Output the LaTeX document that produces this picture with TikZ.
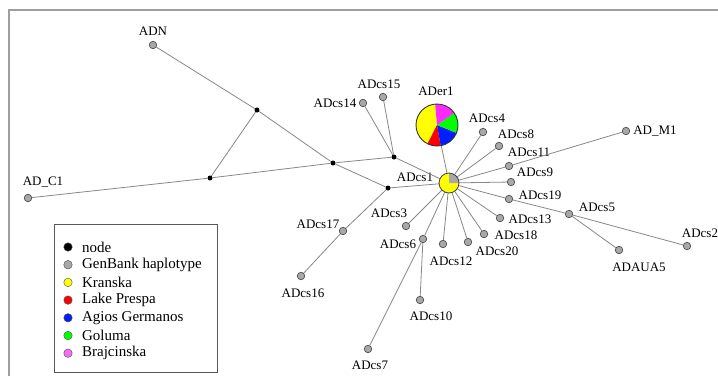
\documentclass[tikz,border=0pt]{standalone}
\usepackage{fontspec}
\setmainfont{Liberation Serif}
\usetikzlibrary{positioning}
\definecolor{hapgray}{RGB}{168,168,168}
\definecolor{linkgray}{RGB}{135,135,135}
\definecolor{pieyellow}{RGB}{255,255,0}
\definecolor{piered}{RGB}{255,0,0}
\definecolor{pieblue}{RGB}{0,30,255}
\definecolor{piegreen}{RGB}{0,255,0}
\definecolor{piepink}{RGB}{255,40,255}
\definecolor{keypink}{RGB}{245,110,245}
\begin{document}
\begin{tikzpicture}[x=1pt, y=-1pt,
    link/.style={draw=linkgray, line width=0.8pt},
    hap/.style={circle, draw=black!70, fill=hapgray, line width=0.7pt, minimum size=7.5pt, inner sep=0pt},
    junc/.style={circle, fill=black, minimum size=5pt, inner sep=0pt},
    big/.style={circle, inner sep=0pt},
    lbl/.style={font=\rmfamily\fontsize{13}{14}\selectfont, inner sep=0pt},
    key/.style={font=\rmfamily\fontsize{15}{17}\selectfont, inner sep=0pt}]

  \useasboundingbox (0,0) rectangle (718,376);

  % Frame (top and left edge only)
  \draw[gray!75, line width=1.4pt] (9,376) -- (9,10) -- (718,10);

  % Median vectors
  \node[junc] (j1) at (257,110) {};
  \node[junc] (j2) at (333,163) {};
  \node[junc] (j3) at (210,178) {};
  \node[junc] (j4) at (394,157) {};
  \node[junc] (j5) at (388,188) {};

  % Haplotypes
  \foreach \n/\x/\y in {ADN/153/45, ADC1/28/198, ADcs14/363/103, ADcs15/383/97,
      ADcs4/483/132, ADcs8/499/146, ADcs11/509/166, ADM1/626/131, ADcs9/511/182,
      ADcs19/509/199, ADcs5/569/214, ADcs2/687/246, ADAUA5/619/250, ADcs13/500/218,
      ADcs18/484/234, ADcs20/468/242, ADcs12/443/244, ADcs6/423/239, ADcs3/406/226,
      ADcs10/420/300, ADcs7/368/349, ADcs17/343/231, ADcs16/301/276} {
    \node[hap] (\n) at (\x,\y) {};
  }
  \node[big, minimum size=20pt] (ADcs1) at (449,183) {};
  \node[big, minimum size=42pt] (ADer1) at (437,125) {};

  % Labels
  \foreach \n/\t/\x/\y in {ADN/ADN/153/31, ADC1/AD\_C1/43/182, ADcs14/ADcs14/335/103,
      ADcs15/ADcs15/379/84, ADer1/ADer1/436/91, ADcs4/ADcs4/487/118, ADcs8/ADcs8/516/134,
      ADcs11/ADcs11/529/152, ADM1/AD\_M1/655/131, ADcs9/ADcs9/535/172, ADcs1/ADcs1/415/177,
      ADcs19/ADcs19/540/195, ADcs5/ADcs5/597/207, ADcs13/ADcs13/530/219,
      ADcs18/ADcs18/516/235, ADcs20/ADcs20/497/251, ADcs12/ADcs12/451/261,
      ADcs2/ADcs2/700/233, ADAUA5/ADAUA5/639/267, ADcs3/ADcs3/389/213,
      ADcs17/ADcs17/318/224, ADcs6/ADcs6/398/244, ADcs16/ADcs16/303/293,
      ADcs10/ADcs10/431/316, ADcs7/ADcs7/370/365} {
    \node[lbl] (t\n) at (\x,\y) {\t};
  }

  % Links
  \foreach \a/\b in {ADN/j1, j1/j2, j1/j3, ADC1/j3, j3/j2, j2/j4, j2/j5,
      j4/ADcs14, j4/ADcs15, j4/ADcs1, j5/ADcs1, j5/ADcs17, ADcs17/ADcs16,
      ADcs1/ADer1, ADcs1/ADcs4, ADcs1/ADcs8, ADcs1/ADcs11, ADcs11/ADM1,
      ADcs1/ADcs9, ADcs1/ADcs19, ADcs19/ADcs5, ADcs5/ADcs2, ADcs5/ADAUA5,
      ADcs1/ADcs13, ADcs1/ADcs18, ADcs1/ADcs20, ADcs1/ADcs12, ADcs1/ADcs6,
      ADcs6/ADcs10, ADcs6/ADcs7, ADcs1/ADcs3} {
    \draw[link] (\a) -- (\b);
  }

  % ADcs1 - Kranska with GenBank share
  \fill[pieyellow] (ADcs1.center) circle (10pt);
  \fill[hapgray] (ADcs1.center) -- ++(0:10pt) arc[start angle=0, end angle=90, radius=10pt] -- cycle;
  \draw[black!75, line width=0.8pt] (ADcs1.center) circle (10pt);

  % ADer1 - pie of populations
  \foreach \s/\e/\c in {95/243/pieyellow, 243/280/piered, 280/338/pieblue,
      338/395/piegreen, 395/455/piepink} {
    \fill[\c] (ADer1.center) -- ++(\s:21pt) arc[start angle=\s, end angle=\e, radius=21pt] -- cycle;
  }
  \draw[black!80, line width=0.9pt] (ADer1.center) circle (21pt);

  % Legend
  \draw[black!65, line width=0.8pt] (54,224) rectangle (217,372);
  \foreach \c/\t [count=\i from 0] in {black/node, hapgray/GenBank haplotype,
      pieyellow/Kranska, piered/Lake Prespa, pieblue/Agios Germanos,
      piegreen/Goluma, keypink/Brajcinska} {
    \node[circle, draw=black!70, fill=\c, minimum size=8.5pt, inner sep=0pt] (k\i) at (68,{247+17.7*\i}) {};
    \node[key, right=9.5pt of k\i] (kt\i) {\t};
  }
\end{tikzpicture}
\end{document}
